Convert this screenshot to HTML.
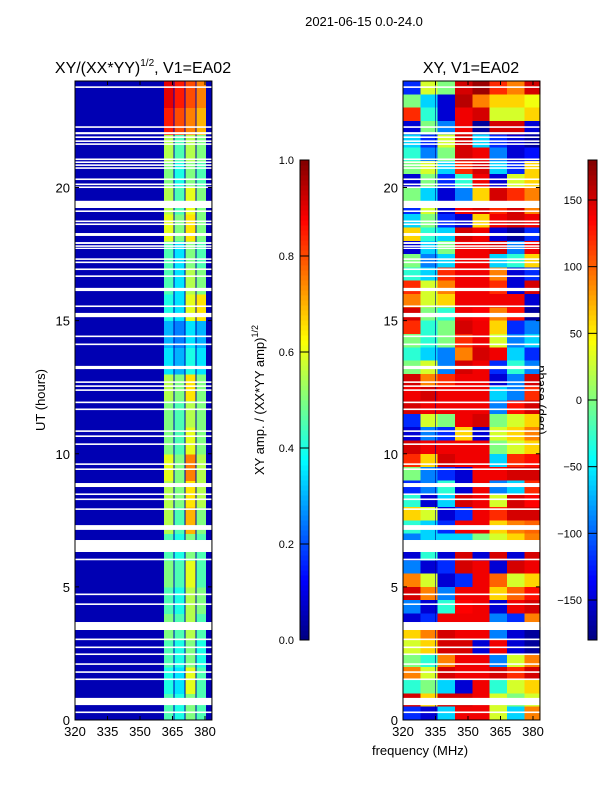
<!DOCTYPE html>
<html><head><meta charset="utf-8"><style>
body{margin:0;background:#fff;}
svg text{font-family:"Liberation Sans","DejaVu Sans",sans-serif;}
</style></head><body>
<svg id="fig" width="600" height="800" xmlns="http://www.w3.org/2000/svg">
<rect width="600" height="800" fill="#fff"/>
<text x="364" y="26" font-size="13" text-anchor="middle">2021-06-15 0.0-24.0</text>
<text x="143" y="73" font-size="16" text-anchor="middle">XY/(XX*YY)<tspan font-size="10" dy="-7">1/2</tspan><tspan dy="7">, V1=EA02</tspan></text>
<text x="471" y="73" font-size="16" text-anchor="middle">XY, V1=EA02</text>
<text x="45" y="400" font-size="13" text-anchor="middle" transform="rotate(-90 45 400)">UT (hours)</text>
<text x="420" y="755" font-size="13" text-anchor="middle">frequency (MHz)</text>
<text x="264" y="400" font-size="13" text-anchor="middle" transform="rotate(-90 264 400)">XY amp. / (XX*YY amp)<tspan font-size="9" dy="-6">1/2</tspan></text>
<text x="537" y="400" font-size="13" text-anchor="middle" transform="rotate(90 537 400)">phase (deg)</text>
<g id="plots"></g>
</svg>
<script>
// ---- data ----
const freqTicks = [320, 335, 350, 365, 380];
const timeTicks = [0, 5, 10, 15, 20];
const ampBands = [[361,366],[366,371],[371,376],[376,381]];
const ampBackground = 0.05;
// hourly rows h=0..23, per band
const ampValues = [
[0.45,0.4,0.5,0.45],[0.4,0.35,0.6,0.45],[0.45,0.4,0.5,0.4],[0.5,0.45,0.55,0.45],
[0.45,0.4,0.55,0.5],[0.5,0.45,0.6,0.45],[0.45,0.4,0.5,0.45],[0.55,0.45,0.7,0.5],
[0.55,0.5,0.65,0.55],[0.6,0.5,0.75,0.55],[0.5,0.45,0.6,0.5],[0.5,0.45,0.55,0.5],
[0.55,0.5,0.65,0.5],[0.35,0.3,0.4,0.35],[0.3,0.25,0.35,0.3],[0.4,0.35,0.6,0.65],
[0.45,0.35,0.55,0.5],[0.45,0.35,0.5,0.45],[0.6,0.5,0.65,0.5],[0.55,0.45,0.6,0.5],
[0.5,0.4,0.5,0.45],[0.55,0.45,0.55,0.5],[0.85,0.8,0.75,0.7],[0.9,0.85,0.8,0.75]];
const phaseFreqEdges = [320,328,336,344,352,360,368,376,384];
// half-hour rows from top (23.5-24) down to (0-0.5)
const phaseValues = [
[-120,30,0,150,170,120,90,150],[0,-60,-150,160,90,60,60,40],[120,-30,-150,140,150,30,30,60],
[-150,0,-90,140,-170,150,150,-150],[-60,-120,30,150,-60,-120,-150,-170],[-30,-90,0,150,140,-90,-150,-130],
[0,30,-60,120,150,-60,-120,60],[-150,0,-120,-30,140,-150,30,60],[0,-60,-150,-90,60,150,120,90],
[-120,30,-150,140,150,120,150,90],[-60,0,-120,-150,60,140,150,140],[60,-30,-60,150,140,-150,-170,-120],
[-150,-60,0,140,140,150,-90,140],[0,-90,-60,140,140,-60,-30,60],[-30,-60,120,140,140,90,-150,-120],
[120,30,90,140,140,120,-150,150],[90,30,60,140,140,140,140,-150],[150,0,-30,140,135,90,130,-170],
[120,-30,0,150,140,60,-120,-90],[0,-30,0,120,140,30,-90,-60],[-30,-60,-90,90,150,140,-60,-120],
[0,30,-90,150,140,-120,-30,-90],[150,90,120,140,140,-150,-90,150],[140,150,140,140,140,-60,-90,120],
[150,140,140,140,140,-90,130,150],[-120,30,0,140,150,0,30,60],[-150,-90,-120,60,-150,30,60,90],
[150,140,140,140,140,0,30,60],[120,60,150,140,140,-60,120,130],[0,-90,-120,-150,140,140,150,150],
[-120,-90,-30,-150,140,-90,-60,120],[-30,-150,-60,150,140,30,150,135],[60,30,-150,-120,140,120,150,150],
[-30,-60,-120,140,140,60,90,100],[-90,-60,-60,-60,0,30,60,90],[-150,-30,-150,150,-150,150,-150,150],
[-90,-150,-120,150,140,-150,150,140],[90,30,-150,-120,140,100,30,60],[150,90,-90,140,140,60,100,130],
[-90,-150,-30,135,140,-150,140,150],[-150,-120,140,140,140,-90,-120,90],[60,90,150,140,140,-90,-150,-170],
[30,60,150,150,-150,140,-150,-170],[0,-30,90,140,140,-90,30,90],[90,30,150,140,140,150,120,150],
[-30,0,-60,-150,140,-30,30,60],[150,60,150,150,140,30,0,30],[-120,-150,-60,140,140,30,-60,90]];
// flagged (blank) time ranges in hours
const gaps = [[23.74,23.8],[22.24,22.3],[22.0,22.08],[21.86,21.92],[21.71,21.77],[21.6,21.66],
[21.03,21.09],[20.92,20.98],[20.81,20.87],[20.7,20.76],[20.28,20.34],[20.09,20.15],[19.98,20.04],
[19.23,19.5],[19.08,19.14],[18.7,18.76],[18.59,18.65],[18.18,18.29],[17.88,17.95],[17.77,17.83],
[17.69,17.74],[17.28,17.34],[17.16,17.22],[16.9,16.96],[16.64,16.7],[16.11,16.23],[15.51,15.57],
[15.13,15.29],[14.38,14.44],[14.08,14.14],[13.18,13.3],[12.66,12.72],[12.51,12.57],[12.36,12.42],
[11.9,11.96],[11.64,11.7],[10.82,10.88],[10.63,10.69],[10.33,10.39],[9.58,9.64],[9.39,9.45],
[8.75,8.9],[8.45,8.51],[8.26,8.32],[7.89,7.95],[7.14,7.32],[6.31,6.76],[6.0,6.06],[4.69,4.75],
[4.32,4.38],[3.38,3.68],[3.0,3.06],[2.7,2.76],[2.44,2.5],[2.07,2.13],[1.77,1.83],[1.5,1.56],
[0.56,0.83],[0.26,0.32]];
const ampCbTicks = [0.0, 0.2, 0.4, 0.6, 0.8, 1.0];
const phaseCbTicks = [-150, -100, -50, 0, 50, 100, 150];

// ---- helpers ----
const NS = 'http://www.w3.org/2000/svg';
const root = document.getElementById('plots');
function el(tag, attrs, parent){ const e=document.createElementNS(NS,tag); for(const k in attrs) e.setAttribute(k,attrs[k]); (parent||root).appendChild(e); return e; }
function jet(v){ v=Math.max(0,Math.min(1,v));
  const r=Math.max(0,Math.min(1,1.5-Math.abs(4*v-3))), g=Math.max(0,Math.min(1,1.5-Math.abs(4*v-2))), b=Math.max(0,Math.min(1,1.5-Math.abs(4*v-1)));
  return `rgb(${Math.round(r*255)},${Math.round(g*255)},${Math.round(b*255)})`; }
const Y0=720, PXH=26.625;
const yS = h => Y0 - h*PXH;
const PXF = 32.5/15;
const xL = f => 75 + (f-320)*PXF;
const xR = f => 403 + (f-320)*PXF;
const FMAX = 383.2;

function axes(xs, name){
  const x0=xs(320), x1=xs(FMAX);
  for(const g of gaps){
    const r=el('rect',{x:x0,y:yS(g[1]),width:x1-x0,height:Math.max(1.2,(g[1]-g[0])*PXH),fill:'#fff'});
    
    
  }
  const fr=el('rect',{x:x0,y:yS(24),width:x1-x0,height:yS(0)-yS(24),fill:'none',stroke:'#000','stroke-width':1});
  
  
  for(const f of freqTicks){
    el('line',{x1:xs(f),x2:xs(f),y1:yS(0),y2:yS(0)-4,stroke:'#000'});
    el('line',{x1:xs(f),x2:xs(f),y1:yS(24),y2:yS(24)+4,stroke:'#000'});
    const t=el('text',{x:xs(f),y:736,'font-size':13,'text-anchor':'middle'}); t.textContent=f;
    
    
  }
  for(const h of timeTicks){
    el('line',{x1:x0,x2:x0+4,y1:yS(h),y2:yS(h),stroke:'#000'});
    el('line',{x1:x1,x2:x1-4,y1:yS(h),y2:yS(h),stroke:'#000'});
    const t=el('text',{x:x0-5,y:yS(h)+5,'font-size':13,'text-anchor':'end'}); t.textContent=h;
    
    
  }
}

// ---- left panel ----
const gl=el('g',{'shape-rendering':'crispEdges'});


el('rect',{x:xL(320),y:yS(24),width:xL(FMAX)-xL(320),height:24*PXH,fill:jet(ampBackground)},gl);
ampValues.forEach((row,i)=>{
  row.forEach((v,j)=>{
    const b=ampBands[j];
    const c=el('rect',{x:xL(b[0]),y:yS(i+1),width:xL(b[1])-xL(b[0])-1,height:PXH+0.5,fill:jet(v)},gl);
    
    
  });
});
axes(xL,'amplitude-plot');

// ---- right panel ----
const gr=el('g',{'shape-rendering':'crispEdges'});


phaseValues.forEach((row,i)=>{
  const hTop=24-0.5*i;
  row.forEach((v,j)=>{
    const f0=phaseFreqEdges[j], f1=Math.min(FMAX,phaseFreqEdges[j+1]);
    const c=el('rect',{x:xR(f0),y:yS(hTop),width:xR(f1)-xR(f0)+0.5,height:PXH/2+0.5,fill:jet((v+180)/360)},gr);
    
    
  });
});
el('line',{x1:xR(335),x2:xR(335),y1:yS(24),y2:yS(0),stroke:'#00008f','stroke-width':1,opacity:0.6});
axes(xR,'phase-plot');

// ---- colorbars ----
function colorbar(x, name, ticks, vmin, vmax, fmt){
  const g=el('g',{'shape-rendering':'crispEdges'});
  
  
  const top=160, bot=640, N=96;
  for(let k=0;k<N;k++){
    el('rect',{x:x,y:bot-(k+1)*(bot-top)/N,width:9,height:(bot-top)/N+0.6,fill:jet((k+0.5)/N)},g);
  }
  el('rect',{x:x,y:top,width:9,height:bot-top,fill:'none',stroke:'#000'},g);
  for(const t of ticks){
    const y=bot-(t-vmin)/(vmax-vmin)*(bot-top);
    el('line',{x1:x,x2:x+9,y1:y,y2:y,stroke:'#000'});
    const tx=el('text',{x:x-6,y:y+4,'font-size':11,'text-anchor':'end'}); tx.textContent=fmt(t);
    
    
  }
}
colorbar(300,'amp-colorbar',ampCbTicks,0,1,t=>t.toFixed(1));
colorbar(588,'phase-colorbar',phaseCbTicks,-180,180,t=>t<0?'\u2212'+(-t):''+t);
</script>
</body></html>
